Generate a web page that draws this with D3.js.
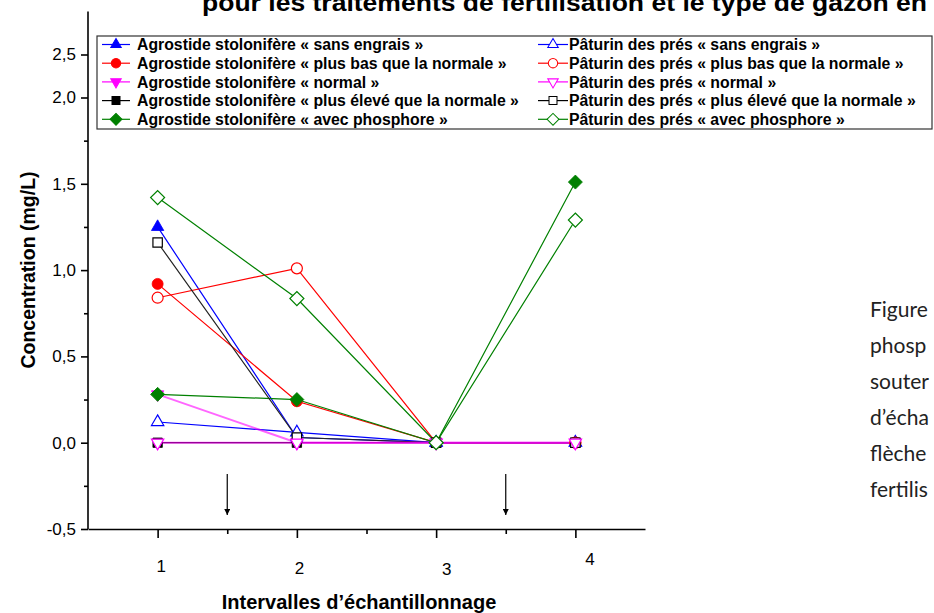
<!DOCTYPE html>
<html>
<head>
<meta charset="utf-8">
<script src="https://cdn.jsdelivr.net/npm/d3@7"></script>
<style>
  body { margin: 0; background: #fff; }
  svg { display: block; }
</style>
</head>
<body>
<div id="viz"></div>
<script>
// values
const intervals = [1, 2, 3, 4];
const yTicks = [-0.5, 0, 0.5, 1, 1.5, 2, 2.5];
const yMinorTicks = [-0.25, 0.25, 0.75, 1.25, 1.75];
const xMinorTicks = [1.5, 2.5, 3.5];
const arrowAt = [1.5, 3.5];

const seriesNames = [
  'Agrostide stolonifère « sans engrais »',
  'Agrostide stolonifère « plus bas que la normale »',
  'Agrostide stolonifère « normal »',
  'Agrostide stolonifère « plus élevé que la normale »',
  'Agrostide stolonifère « avec phosphore »',
  'Pâturin des prés « sans engrais »',
  'Pâturin des prés « plus bas que la normale »',
  'Pâturin des prés « normal »',
  'Pâturin des prés « plus élevé que la normale »',
  'Pâturin des prés « avec phosphore »'
];

const agrostideSansEngrais = [1.25, 0.03, 0, 0];
const agrostidePlusBas = [0.92, 0.24, 0, 0];
const agrostideNormal = [0.28, 0, 0, 0];
const agrostidePlusEleve = [0, 0, 0, 0];
const agrostidePhosphore = [0.28, 0.25, 0, 1.51];
const paturinSansEngrais = [0.12, 0.06, 0, 0];
const paturinPlusBas = [0.84, 1.01, 0, 0];
const paturinNormal = [0, 0, 0, 0];
const paturinPlusEleve = [1.16, 0.03, 0, 0];
const paturinPhosphore = [1.42, 0.835, 0, 1.29];

const seriesValues = [
  agrostideSansEngrais, agrostidePlusBas, agrostideNormal, agrostidePlusEleve, agrostidePhosphore,
  paturinSansEngrais, paturinPlusBas, paturinNormal, paturinPlusEleve, paturinPhosphore
];

const config = {
  width: 934,
  height: 613,
  left: 88,
  right: 645,
  top: 11.5,
  bottom: 529
};

const colors = ['#0000ff', '#ff0000', '#ff00ff', '#000000', '#008000'];
const shapes = ['triUp', 'circle', 'triDown', 'square', 'diamond'];

// the x tick labels in the original sit a little off their ticks
const xLabelNudge = { 1: [3, 0], 2: [2, 2], 3: [10, 3], 4: [14, -7] };

const svg = d3.select('#viz').append('svg')
  .attr('width', config.width)
  .attr('height', config.height)
  .style('font-family', '"Liberation Sans", Arial, sans-serif');

// x: 0.5 .. 4.5
const x = d3.scaleLinear().domain([0.5, 4.5]).range([config.left, config.right]);
// y axis is broken: 2,0 -> 2,5 is squeezed
const y = d3.scaleLinear().domain([-0.5, 2, 3]).range([config.bottom, 97.5, config.top]);

const locale = d3.formatLocale({ decimal: ',', thousands: ' ', grouping: [3], currency: ['', ''], minus: '-' });
const fmt = locale.format('.1f');

/**
 * Returns a path for one marker shape centred on 0,0
 */
function markerPath(shape) {
  if (shape === 'triUp') return d3.symbol(d3.symbolTriangle, 66)();
  if (shape === 'triDown') return d3.symbol(d3.symbolTriangle, 66)();
  if (shape === 'circle') return d3.symbol(d3.symbolCircle, 95)();
  if (shape === 'square') return d3.symbol(d3.symbolSquare, 88)();
  return d3.symbol(d3.symbolSquare, 98)();
}
function markerRotate(shape) {
  if (shape === 'triDown') return 180;
  if (shape === 'diamond') return 45;
  return 0;
}

// title (cut at the top of the page)
svg.append('text')
  .attr('x', 202)
  .attr('y', 11)
  .attr('font-size', 24)
  .attr('font-weight', 'bold')
  .attr('textLength', 725)
  .attr('lengthAdjust', 'spacingAndGlyphs')
  .text('pour les traitements de fertilisation et le type de gazon en');

// axes
const yAxis = svg.append('g')
  .attr('transform', `translate(${config.left},0)`)
  .call(d3.axisLeft(y).tickValues(yTicks).tickFormat(fmt).tickSize(7).tickSizeOuter(0))
  .call(g => g.select('.domain').attr('d', `M0,${config.bottom}V${config.top}`));
yAxis.selectAll('text').attr('font-size', 17).attr('dx', -2).attr('fill', '#000');

svg.append('g')
  .attr('transform', `translate(${config.left},0)`)
  .call(d3.axisLeft(y).tickValues(yMinorTicks).tickFormat('').tickSize(4).tickSizeOuter(0))
  .call(g => g.select('.domain').remove());

const xAxis = svg.append('g')
  .attr('transform', `translate(0,${config.bottom})`)
  .call(d3.axisBottom(x).tickValues(intervals).tickFormat(d3.format('d')).tickSize(9).tickSizeOuter(0));
xAxis.selectAll('text')
  .attr('font-size', 17)
  .attr('dy', '1.8em')
  .attr('fill', '#000')
  .attr('transform', d => `translate(${xLabelNudge[d][0]},${xLabelNudge[d][1]})`);

svg.append('g')
  .attr('transform', `translate(0,${config.bottom})`)
  .call(d3.axisBottom(x).tickValues(xMinorTicks).tickFormat('').tickSize(5).tickSizeOuter(0))
  .call(g => g.select('.domain').remove());

svg.selectAll('.domain, .tick line').attr('stroke', '#000').attr('stroke-width', 1.6);

// axis titles
svg.append('text')
  .attr('transform', 'translate(35,270) rotate(-90)')
  .attr('text-anchor', 'middle')
  .attr('font-size', 19.5)
  .attr('font-weight', 'bold')
  .text('Concentration (mg/L)');

svg.append('text')
  .attr('x', 359)
  .attr('y', 609)
  .attr('text-anchor', 'middle')
  .attr('font-size', 20)
  .attr('font-weight', 'bold')
  .text('Intervalles d’échantillonnage');

// arrows marking fertilisation
const defs = svg.append('defs');
defs.append('marker')
  .attr('id', 'head')
  .attr('viewBox', '0 0 10 10')
  .attr('refX', 10).attr('refY', 5)
  .attr('markerWidth', 12).attr('markerHeight', 6)
  .attr('markerUnits', 'userSpaceOnUse')
  .attr('orient', 'auto')
  .append('path').attr('d', 'M0,0L10,5L0,10Z').attr('fill', '#000');

svg.selectAll('.arrow')
  .data(arrowAt)
  .join('line')
  .attr('class', 'arrow')
  .attr('x1', d => x(d)).attr('x2', d => x(d))
  .attr('y1', 474).attr('y2', 515)
  .attr('stroke', '#000').attr('stroke-width', 1.2)
  .attr('marker-end', 'url(#head)');

// series
const line = d3.line().x((d, i) => x(intervals[i])).y(d => y(d));

const series = seriesValues.map((vals, k) => ({
  name: seriesNames[k],
  values: vals,
  color: colors[k % 5],
  shape: shapes[k % 5],
  open: k >= 5
}));

// magenta "normal" lines sit on top of the zero line, the rest keep file order
const lineOrder = [0, 1, 3, 4, 5, 6, 8, 9, 2, 7];
const markerOrder = [0, 1, 2, 3, 4, 5, 6, 8, 7, 9];

const plot = svg.append('g');
lineOrder.forEach(k => {
  const s = series[k];
  const isNormal = s.shape === 'triDown';
  plot.append('path')
    .attr('d', line(s.values))
    .attr('fill', 'none')
    .attr('stroke', s.open && s.color === '#000000' ? '#222' : s.color)
    .attr('stroke-opacity', isNormal ? 0.6 : 1)
    .attr('stroke-width', isNormal ? 2 : 1.2);
});
markerOrder.forEach(k => {
  const s = series[k];
  plot.append('g').selectAll('path')
    .data(s.values)
    .join('path')
    .attr('d', markerPath(s.shape))
    .attr('transform', (d, i) => `translate(${x(intervals[i])},${y(d)}) rotate(${markerRotate(s.shape)})`)
    .attr('fill', s.open ? '#fff' : s.color)
    .attr('stroke', s.color)
    .attr('stroke-width', s.open ? 1.2 : 0.8);
});

// legend
const legendTop = 36;
svg.append('rect')
  .attr('x', 97).attr('y', legendTop)
  .attr('width', 835).attr('height', 129 - legendTop)
  .attr('fill', 'none')
  .attr('stroke', '#333')
  .attr('stroke-width', 1.2);

const rowY = i => 44.5 + i * 18.7;
series.forEach((s, k) => {
  const col = s.open ? 1 : 0;
  const row = k % 5;
  const x0 = col ? 538 : 102;
  const x1 = col ? 568 : 130;
  const cy = rowY(row);
  const g = svg.append('g');
  g.append('line')
    .attr('x1', x0).attr('x2', x1)
    .attr('y1', cy).attr('y2', cy)
    .attr('stroke', s.color).attr('stroke-width', 1.2);
  g.append('path')
    .attr('d', markerPath(s.shape))
    .attr('transform', `translate(${(x0 + x1) / 2},${cy}) rotate(${markerRotate(s.shape)}) scale(0.85)`)
    .attr('fill', s.open ? '#fff' : s.color)
    .attr('stroke', s.color)
    .attr('stroke-width', 1.2);
  g.append('text')
    .attr('x', col ? 569 : 137)
    .attr('y', cy)
    .attr('dy', '0.36em')
    .attr('font-size', 15.8)
    .attr('font-weight', 'bold')
    .text(s.name);
});

// caption text from the page, cut at the right edge
const captionLines = ['Figure', 'phosp', 'souter', 'd’écha', 'flèche', 'fertilis'];
svg.selectAll('.caption')
  .data(captionLines)
  .join('text')
  .attr('class', 'caption')
  .attr('x', 870)
  .attr('y', (d, i) => 317 + i * 36)
  .attr('font-family', 'Lato, "Open Sans", sans-serif')
  .attr('font-size', 21)
  .attr('fill', '#222')
  .text(d => d);
</script>
</body>
</html>
